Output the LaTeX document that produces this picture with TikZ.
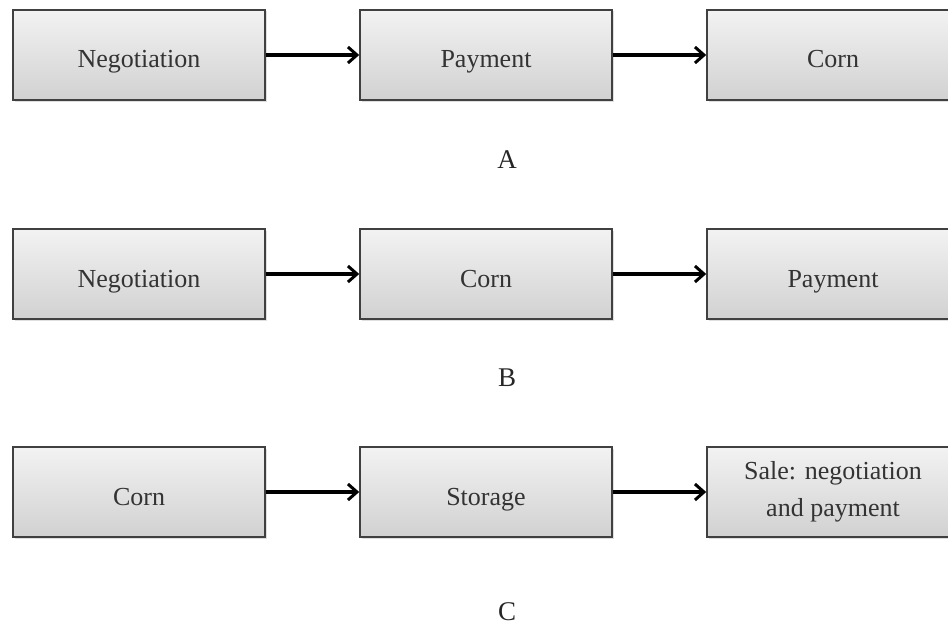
\documentclass[tikz,border=0pt]{standalone}
\usepackage{fontspec}
\setmainfont{Liberation Serif}
\usetikzlibrary{arrows.meta,shadows}
\begin{document}
\begin{tikzpicture}[x=1pt,y=-1pt,
  box/.style={draw=black!75,line width=1.6pt,top color=white!95!black,bottom color=black!18,
    minimum width=252pt,minimum height=90pt,inner sep=0pt,font=\fontsize{26}{37}\selectfont,text=black!80,
    align=center,drop shadow={shadow xshift=1.5pt,shadow yshift=-1.5pt,opacity=0.25}},
  one/.style={text height=30pt,text depth=4pt},
  conn/.style={line width=3.4pt,-{Straight Barb[length=9pt,width=16pt,line width=3pt]}},
  lab/.style={font=\fontsize{27}{28}\selectfont,text=black!85}]
\clip (0,0) rectangle (948,626);
\fill[white] (0,0) rectangle (948,626);
\node[box,one] (a1) at (139,55) {Negotiation};
\node[box,one] (a2) at (486,55) {Payment};
\node[box,one] (a3) at (833,55) {Corn};
\node[lab] (la) at (507,160) {A};
\node[box,one] (b1) at (139,274) {Negotiation};
\node[box,one] (b2) at (486,274) {Corn};
\node[box,one] (b3) at (833,274) {Payment};
\node[lab] (lb) at (507,378) {B};
\node[box,one] (c1) at (139,492) {Corn};
\node[box,one] (c2) at (486,492) {Storage};
\node[box] (c3) at (833,492) {Sale: negotiation\\and payment};
\node[lab] (lc) at (507,612) {C};
\draw[conn] (a1) -- (a2);
\draw[conn] (a2) -- (a3);
\draw[conn] (b1) -- (b2);
\draw[conn] (b2) -- (b3);
\draw[conn] (c1) -- (c2);
\draw[conn] (c2) -- (c3);
\end{tikzpicture}
\end{document}
